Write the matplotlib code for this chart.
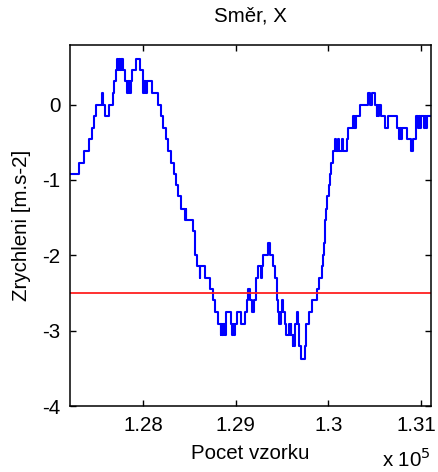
import matplotlib
matplotlib.use("Agg")
import matplotlib.pyplot as plt
from matplotlib.transforms import ScaledTranslation

plt.rcParams["font.family"] = ["Liberation Sans", "DejaVu Sans"]

# Sample index where each new value starts, and the acceleration held from there [m.s-2]
sample_idx = [
    127212, 127313, 127367, 127414, 127450, 127475, 127493, 127552, 127563, 127593,
    127630, 127673, 127687, 127709, 127723, 127734, 127741, 127752, 127759, 127770,
    127776, 127781, 127806, 127831, 127838, 127846, 127853, 127860, 127867, 127876,
    127924, 127968, 127997, 128003, 128011, 128018, 128026, 128032, 128040, 128094,
    128165, 128191, 128213, 128248, 128273, 128302, 128329, 128356, 128381, 128407,
    128453, 128460, 128466, 128543, 128556, 128566, 128579, 128610, 128618, 128669,
    128723, 128759, 128777, 128812, 128838, 128847, 128852, 128863, 128869, 128879,
    128885, 128899, 128950, 128964, 128973, 128982, 128993, 129011, 129057, 129101,
    129119, 129133, 129155, 129173, 129201, 129214, 129219, 129244, 129268, 129279,
    129298, 129346, 129370, 129400, 129424, 129443, 129451, 129460, 129467, 129475,
    129483, 129489, 129505, 129513, 129532, 129543, 129579, 129586, 129594, 129601,
    129615, 129623, 129629, 129640, 129662, 129669, 129686, 129702, 129748, 129759,
    129794, 129820, 129874, 129902, 129928, 129945, 129956, 129961, 129964, 129975,
    129989, 130010, 130023, 130029, 130047, 130072, 130083, 130109, 130120, 130147,
    130158, 130198, 130215, 130269, 130277, 130284, 130291, 130298, 130341, 130431,
    130449, 130468, 130503, 130522, 130530, 130541, 130552, 130563, 130611, 130647,
    130744, 130766, 130773, 130781, 130791, 130852, 130889, 130910, 130946, 130967,
    130978, 130989, 131000, 131032, 131043, 131054, 131064,
]
accel = [
    -0.92, -0.77, -0.61, -0.46, -0.31, -0.15, 0.00, 0.15, 0.00, -0.15,
    0.00, 0.15, 0.31, 0.46, 0.61, 0.46, 0.61, 0.46, 0.61, 0.46,
    0.61, 0.46, 0.31, 0.15, 0.31, 0.15, 0.31, 0.15, 0.31, 0.46,
    0.61, 0.46, 0.31, 0.15, 0.31, 0.15, 0.31, 0.15, 0.31, 0.15,
    0.00, -0.15, -0.31, -0.46, -0.61, -0.77, -0.92, -1.07, -1.22, -1.38,
    -1.53, -1.38, -1.53, -1.68, -1.84, -1.99, -2.14, -2.30, -2.14, -2.30,
    -2.45, -2.60, -2.75, -2.91, -3.06, -2.91, -3.06, -2.91, -3.06, -2.91,
    -3.06, -2.75, -2.91, -3.06, -2.91, -3.06, -2.91, -2.75, -2.91, -2.75,
    -2.60, -2.45, -2.60, -2.75, -2.60, -2.45, -2.30, -2.14, -2.30, -2.14,
    -1.99, -1.84, -1.99, -2.14, -2.30, -2.45, -2.60, -2.75, -2.91, -2.75,
    -2.91, -2.75, -2.60, -2.75, -2.91, -3.06, -2.91, -3.06, -2.91, -3.06,
    -3.21, -3.06, -3.21, -2.91, -2.75, -2.91, -3.21, -3.37, -3.21, -2.91,
    -2.75, -2.60, -2.45, -2.30, -2.14, -1.99, -1.84, -1.68, -1.53, -1.38,
    -1.22, -1.07, -0.92, -0.77, -0.61, -0.46, -0.61, -0.46, -0.61, -0.46,
    -0.61, -0.46, -0.31, -0.15, -0.31, -0.15, -0.31, -0.15, 0.00, 0.15,
    0.00, 0.15, 0.00, -0.15, 0.00, -0.15, 0.00, -0.15, -0.31, -0.15,
    -0.31, -0.46, -0.31, -0.46, -0.31, -0.46, -0.61, -0.46, -0.15, -0.31,
    -0.15, -0.31, -0.15, -0.31, -0.15, -0.31, -0.15,
]
last_sample = 131108
threshold = -2.5

x_ticks = [128000, 129000, 130000, 131000]
x_tick_labels = ["1.28", "1.29", "1.3", "1.31"]
y_ticks = [-4, -3, -2, -1, 0]
y_tick_labels = ["-4", "-3", "-2", "-1", "0"]

FS = 14.8

fig = plt.figure(figsize=(4.38, 4.72), dpi=100)
ax = fig.add_axes([70 / 438, 66 / 472, 361 / 438, 361 / 472])

# hold the final value until the last sample
xs = sample_idx + [last_sample]
ys = accel + [accel[-1]]
ax.plot(xs, ys, drawstyle="steps-post", color="#0000ff", lw=1.5)
ax.axhline(threshold, color="#ff2020", lw=1.3)

ax.set_xlim(sample_idx[0], last_sample)
ax.set_ylim(-4, 0.79)
ax.set_xticks(x_ticks)
ax.set_xticklabels(x_tick_labels)
ax.set_yticks(y_ticks)
ax.set_yticklabels(y_tick_labels)

ax.tick_params(direction="in", top=True, right=True, length=4, width=1.0,
               labelsize=FS, pad=7)
for sp in ax.spines.values():
    sp.set_linewidth(1.1)

# keep the rightmost tick label inside the figure
last_lbl = ax.get_xticklabels()[-1]
last_lbl.set_transform(last_lbl.get_transform() +
                       ScaledTranslation(-5 / 100, 0, fig.dpi_scale_trans))

ax.set_title("Směr, X", fontsize=FS, pad=17)
ax.set_xlabel("Pocet vzorku", fontsize=FS, labelpad=7)
ax.set_ylabel("Zrychleni [m.s-2]", fontsize=FS, labelpad=8)

fig.text(431 / 438, 1 / 472, r"x 10$^{5}$", fontsize=FS, ha="right", va="bottom")

fig.savefig("out.png", dpi=100)
